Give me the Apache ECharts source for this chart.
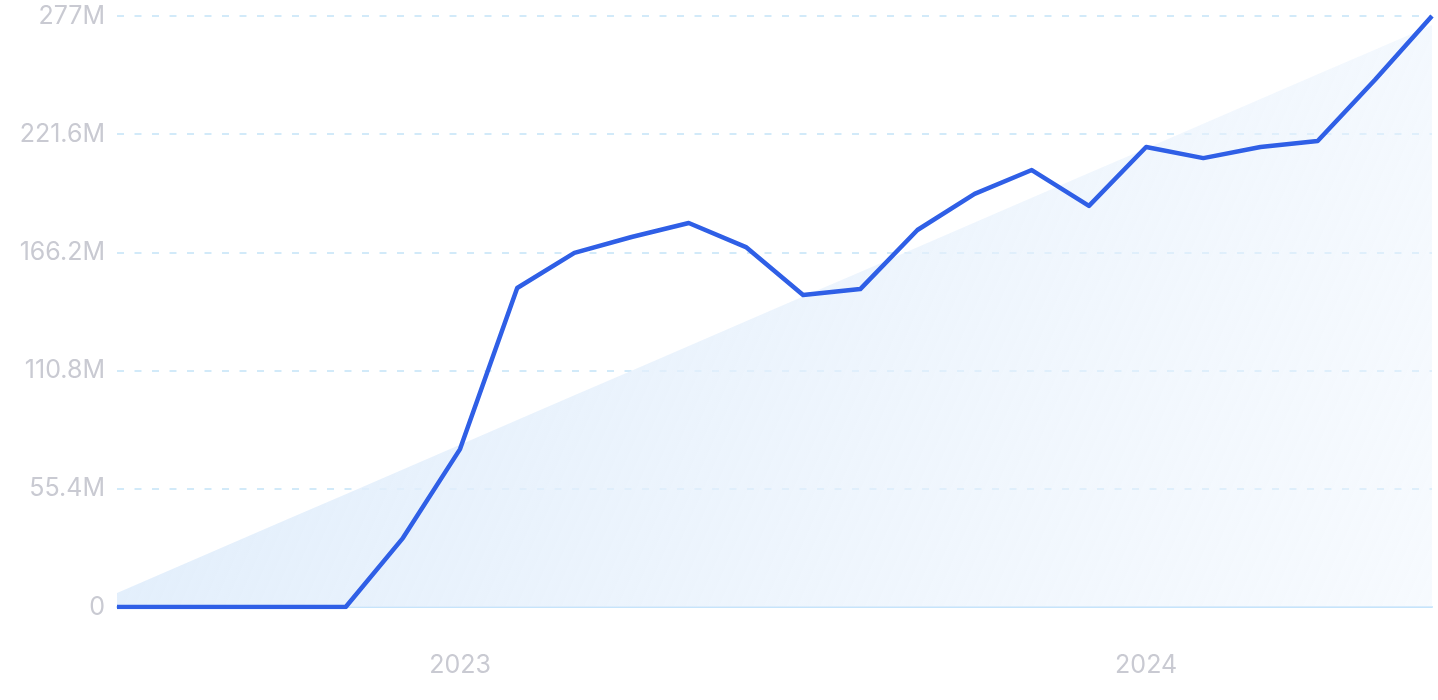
<!DOCTYPE html>
<html>
<head>
<meta charset="utf-8">
<script src="https://cdn.jsdelivr.net/npm/echarts@6/dist/echarts.min.js"></script>
<style>
html,body{margin:0;padding:0;background:#fff;}
#chart{width:1438px;height:700px;}
</style>
</head>
<body>
<div id="chart"></div>
<script>
const categories = ['2022-07','2022-08','2022-09','2022-10','2022-11','2022-12','2023-01','2023-02','2023-03','2023-04','2023-05','2023-06','2023-07','2023-08','2023-09','2023-10','2023-11','2023-12','2024-01','2024-02','2024-03','2024-04','2024-05','2024-06'];
const values = [0,0,0,0,0,32.3,74,149.5,166,173.4,180,168.7,146.2,149,176.7,193.6,204.8,188,215.6,210.4,215.6,218.4,247,277];
const trendStart = 6.6;
const trendEnd = 272.8;
const yTicks = [0,55.4,110.8,166.2,221.6,277];

const trend = categories.map((c,i)=> +(trendStart + (trendEnd-trendStart)*i/(categories.length-1)).toFixed(2));

const chart = echarts.init(document.getElementById('chart'));
chart.setOption({
  animation:false,
  grid:{left:117,right:6,top:16,bottom:93,containLabel:false},
  xAxis:{
    type:'category',
    data:categories,
    boundaryGap:false,
    axisLine:{show:true,lineStyle:{color:'#c6e4fb',width:2}},
    axisTick:{show:false},
    axisLabel:{
      interval:0,
      color:'#c9cad2',
      fontSize:25,
      fontFamily:'Inter',
      margin:46,
      formatter:function(v){ return v.endsWith('-01') ? v.slice(0,4) : ''; }
    },
    splitLine:{show:false}
  },
  yAxis:{
    type:'value',
    min:0,
    max:yTicks[yTicks.length-1],
    interval:yTicks[1],
    axisLine:{show:false},
    axisTick:{show:false},
    axisLabel:{
      color:'#c9cad2',
      fontSize:25,
      fontFamily:'Inter',
      margin:12,
      formatter:function(v){ const r = Math.round(v*10)/10; return r===0 ? '0' : r+'M'; }
    },
    splitLine:{show:true,lineStyle:{color:'#c4e3f7',type:[7,10.5],width:1.5}}
  },
  series:[
    {
      type:'line',
      data:trend,
      symbol:'none',
      silent:true,
      lineStyle:{width:0,opacity:0},
      areaStyle:{
        opacity:1,
        color:new echarts.graphic.LinearGradient(0,0,1,1,[
          {offset:0,color:'rgba(222,236,251,1)'},
          {offset:1,color:'rgba(236,244,253,0.45)'}
        ])
      },
      z:1
    },
    {
      type:'line',
      data:values,
      symbol:'none',
      lineStyle:{color:'#2f5fe6',width:4.5,join:'round'},
      z:3
    }
  ]
});
</script>
</body>
</html>
